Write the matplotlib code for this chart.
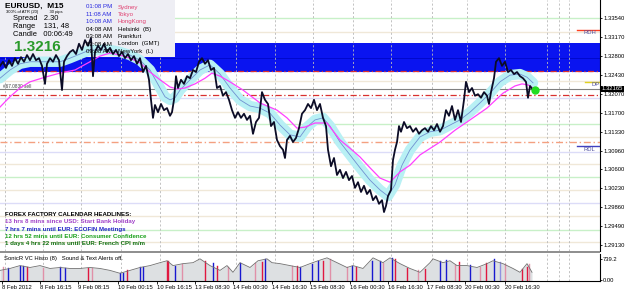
import matplotlib
matplotlib.use('Agg')
import matplotlib.pyplot as plt
from matplotlib.patches import Rectangle
import matplotlib.transforms as mtransforms

# ---------------- data ----------------
bar_x = [0,3,6,9,12,15,18,21,24,27,30,33,36,39,42,45,47,50,53,56,59,62,64,67,70,73,76,79,82,85,88,91,93,95,98,101,104,107,110,113,116,119,122,125,128,131,134,137,140,143,146,149,151,153,155,158,161,164,167,170,172,174,176,178,181,184,187,190,193,196,199,202,205,208,211,214,217,220,223,226,229,232,235,238,241,244,247,250,253,256,259,262,265,268,271,274,277,280,283,285,287,290,293,296,299,302,305,308,311,314,317,320,323,326,328,331,334,337,340,343,346,349,352,355,358,361,364,367,370,373,376,379,382,384,386,388,391,393,395,397,399,401,404,407,410,413,416,419,422,425,428,431,434,437,440,443,446,449,452,455,458,461,464,466,469,472,475,478,481,484,487,489,491,494,496,499,502,505,508,511,514,517,520,523,526,528,530,533]
close = [1.3261,1.3269,1.3257,1.3272,1.3261,1.3276,1.3265,1.3278,1.3269,1.3282,1.3272,1.3284,1.3272,1.3276,1.3261,1.3226,1.3265,1.3276,1.3269,1.3282,1.3272,1.3214,1.3269,1.3280,1.3288,1.3292,1.3284,1.3304,1.3292,1.3311,1.3300,1.3315,1.3241,1.3288,1.3300,1.3292,1.3304,1.3288,1.3296,1.3284,1.3292,1.3280,1.3288,1.3276,1.3284,1.3272,1.3280,1.3265,1.3276,1.3249,1.3261,1.3234,1.3195,1.3160,1.3185,1.3171,1.3187,1.3175,1.3179,1.3164,1.3171,1.3195,1.3241,1.3218,1.3234,1.3226,1.3241,1.3237,1.3253,1.3249,1.3269,1.3276,1.3265,1.3272,1.3253,1.3257,1.3218,1.3222,1.3203,1.3210,1.3195,1.3175,1.3160,1.3171,1.3160,1.3168,1.3156,1.3164,1.3129,1.3152,1.3160,1.3210,1.3195,1.3187,1.3144,1.3152,1.3117,1.3105,1.3098,1.3082,1.3117,1.3125,1.3113,1.3121,1.3140,1.3168,1.3175,1.3187,1.3179,1.3195,1.3175,1.3187,1.3160,1.3144,1.3098,1.3066,1.3082,1.3049,1.3059,1.3043,1.3055,1.3039,1.3047,1.3024,1.3035,1.3016,1.3028,1.3012,1.3020,1.3000,1.3008,1.2993,1.3000,1.2977,1.2989,1.3008,1.3020,1.3078,1.3098,1.3113,1.3144,1.3133,1.3152,1.3140,1.3144,1.3133,1.3140,1.3129,1.3136,1.3140,1.3133,1.3144,1.3136,1.3148,1.3133,1.3144,1.3175,1.3164,1.3183,1.3156,1.3175,1.3152,1.3195,1.3230,1.3210,1.3218,1.3203,1.3206,1.3199,1.3210,1.3203,1.3187,1.3210,1.3237,1.3269,1.3276,1.3261,1.3269,1.3249,1.3253,1.3245,1.3249,1.3241,1.3237,1.3230,1.3199,1.3222,1.3214]

ema34_x = [0,10,20,30,40,50,60,70,80,90,100,110,120,130,140,150,160,165,170,175,180,190,200,210,220,230,240,250,260,270,280,290,300,307,315,323,330,340,350,360,370,380,388,395,402,410,420,430,440,450,460,470,480,490,500,510,520,527,533]
ema34 = [1.3237,1.3253,1.3265,1.3269,1.3269,1.3269,1.3269,1.3276,1.3284,1.3292,1.3292,1.3292,1.3288,1.3282,1.3272,1.3253,1.3218,1.3201,1.3195,1.3199,1.3214,1.3234,1.3253,1.3263,1.3245,1.3218,1.3195,1.3183,1.3179,1.3169,1.3146,1.3127,1.3123,1.3142,1.3156,1.3160,1.3144,1.3113,1.3088,1.3063,1.3039,1.3020,1.3008,1.3030,1.3068,1.3098,1.3123,1.3133,1.3136,1.3146,1.3156,1.3171,1.3189,1.3208,1.3230,1.3243,1.3245,1.3239,1.3228]

ema89_x = [0,10,20,30,45,60,75,90,100,110,120,130,140,150,160,170,177,185,195,205,212,220,230,243,260,277,287,297,305,315,327,340,350,360,370,380,390,400,410,420,440,455,470,487,503,515,522,528,533]
ema89 = [1.3181,1.3201,1.3218,1.3230,1.3239,1.3247,1.3253,1.3269,1.3280,1.3286,1.3282,1.3276,1.3267,1.3249,1.3234,1.3220,1.3216,1.3218,1.3226,1.3237,1.3247,1.3241,1.3230,1.3214,1.3189,1.3175,1.3160,1.3140,1.3142,1.3150,1.3150,1.3117,1.3101,1.3084,1.3063,1.3043,1.3035,1.3055,1.3068,1.3088,1.3113,1.3136,1.3156,1.3179,1.3208,1.3222,1.3226,1.3224,1.3218]

last_x = 535
last_price = 1.3214
bid_price = 1.32165

price_ticks = [1.33540,1.33170,1.32800,1.32430,1.32070,1.31700,1.31330,1.30960,1.30600,1.30230,1.29860,1.29490,1.29130]
time_pos = [2,40,78,118,157,195,233,272,310,350,388,427,465,505]
time_labels = ['8 Feb 2012','8 Feb 16:15','9 Feb 08:15','10 Feb 00:15','10 Feb 16:15','13 Feb 08:30','14 Feb 00:30','14 Feb 16:30','15 Feb 08:30','16 Feb 00:30','16 Feb 16:30','17 Feb 08:30','20 Feb 00:30','20 Feb 16:30']
grid_x = [5,43,81,121,160,198,236,275,313,353,391,432,467,505,547,559,569]

green_levels = [1.3354,1.3148,1.3045,1.2942]
beige_levels = [1.3327,1.3232,1.3171,1.3123,1.3070,1.3020,1.2969,1.2919]
lavender_levels = [1.3199,1.3094,1.2995]
red_dashdot_levels = [1.3251,1.3204]
orange_dashdot_level = 1.3113
blue_zone = (1.3249, 1.3305)
rdh_level = 1.3331
rdl_level = 1.3105
dp_level = 1.3230

vol_x = [0,10,20,30,40,50,60,70,80,90,100,110,120,130,140,150,160,167,173,183,193,200,210,220,227,233,240,250,258,267,272,280,290,300,310,318,327,337,347,353,363,373,383,390,400,410,420,430,433,443,450,457,467,477,487,493,503,513,520,527,532]
vol = [290,343,422,370,422,343,370,343,343,370,343,290,211,290,370,422,502,554,422,475,502,607,422,290,422,238,502,370,554,607,502,475,422,370,475,554,634,502,370,422,343,634,502,634,475,343,238,502,607,502,554,422,422,370,475,554,475,343,238,475,238]

hist_x = [3,8,20,23,27,43,60,65,88,92,120,123,127,140,143,167,168,175,182,205,213,217,228,240,255,262,265,292,297,300,312,318,323,330,347,352,356,372,380,383,392,395,407,418,425,440,446,455,459,470,480,486,494,500,505,522,527,529]
hist_v = [370,343,422,422,370,343,370,343,343,343,211,211,290,370,370,554,554,422,475,554,480,422,380,500,500,520,600,420,400,370,475,540,560,600,380,400,380,560,560,500,620,600,360,300,330,560,580,440,520,440,380,500,590,520,470,320,390,460]
hist_c = ['pink','blue','blue','blue','red','pink','blue','blue','red','pink','blue','blue','red','blue','blue','red','red','blue','pink','red','blue','red','pink','blue','pink','red','blue','pink','red','blue','blue','blue','red','pink','pink','blue','red','blue','blue','pink','blue','red','red','pink','red','blue','blue','pink','red','blue','pink','red','blue','lblue','pink','red','red','pink']

# ---------------- figure ----------------
W, H = 625, 293
fig = plt.figure(figsize=(W/100, H/100), dpi=100)
fig.patch.set_facecolor('white')
FS = 4.2
FONT = 'Liberation Sans'

def px(x, y):
    return x / W, 1 - y / H

ax = fig.add_axes([0, (H-251)/H, 600/W, 251/H])
ax.set_xlim(0, 600)
ax.set_ylim(1.29013, 1.33890)
ax.set_facecolor('white')

# blue zone
ax.axhspan(blue_zone[0], blue_zone[1], color='#0a14f0', zorder=1, lw=0)
ax.axhline((blue_zone[0]+blue_zone[1])/2, color='#0008c8', lw=0.6, zorder=1.1)

for lv in green_levels:
    ax.axhline(lv, color='#c8f0c8', lw=1.0, zorder=1)
for lv in beige_levels:
    ax.axhline(lv, color='#f0e8d8', lw=1.0, zorder=1)
for lv in lavender_levels:
    ax.axhline(lv, color='#dcdcf8', lw=1.0, zorder=1)
for gx in grid_x:
    ax.axvline(gx, color='#b8b8b8', lw=0.6, ls=(0, (2.5, 2.5)), zorder=1.2)
ax.axhline(red_dashdot_levels[0] - 0.0001, color='#e8e8ff', lw=0.8, ls=(0, (3, 2)), zorder=1.3)
for lv in red_dashdot_levels:
    ax.axhline(lv, color='#d83030', lw=0.9, ls=(0, (5, 2, 1, 2)), zorder=1.4)
ax.axhline(orange_dashdot_level, color='#f4a080', lw=1.0, ls=(0, (5, 2, 1, 2)), zorder=1.4)
ax.axhline(bid_price, color='#808080', lw=0.8, zorder=1.4)

ax.plot([577, 600], [rdh_level]*2, color='#ff4020', lw=1.0, zorder=2)
ax.plot([577, 600], [rdl_level]*2, color='#4040c0', lw=1.0, zorder=2)
ax.plot([585, 600], [dp_level]*2, color='#e0d020', lw=1.0, zorder=2)
ax.text(584, rdh_level - 0.0001, 'RDH', fontsize=FS, color='#5050a0', va='top', family=FONT, zorder=3)
ax.text(584, rdl_level - 0.0001, 'RDL', fontsize=FS, color='#5050a0', va='top', family=FONT, zorder=3)
ax.text(592, dp_level - 0.0001, 'DP', fontsize=FS, color='#5050a0', va='top', family=FONT, zorder=3)
ax.text(3, bid_price, '#67.0830 sell', fontsize=3.4, color='#404040', va='bottom', family=FONT, zorder=3)

# info box (drawn under price)
ax.add_patch(Rectangle((0, 1.3278), 175, 0.0111, facecolor='#eeeef4', edgecolor='none', zorder=2))

# indicators
ax.plot(ema34_x, ema34, color='#b8f0f4', lw=7.5, solid_capstyle='round', zorder=3)
ax.plot(ema34_x, ema34, color='#7090d0', lw=0.6, zorder=3.1)
ax.plot(ema89_x, ema89, color='#ff40ff', lw=0.9, zorder=3.2)
ax.plot(bar_x, close, color='#0c0c26', lw=1.3, zorder=4)
ax.plot([last_x], [last_price], 'o', color='#22dd22', ms=5, zorder=5)

ax.yaxis.tick_right()
ax.set_yticks(price_ticks)
ax.set_yticklabels(['%.5f' % v for v in price_ticks], fontsize=FS, family=FONT)
ax.tick_params(axis='y', length=1.5, width=0.6, pad=0.8)
ax.set_xticks([])
for s in ['top', 'left']:
    ax.spines[s].set_visible(False)
ax.spines['right'].set_color('black')
ax.spines['right'].set_linewidth(0.8)
ax.spines['bottom'].set_visible(False)

tr = mtransforms.blended_transform_factory(ax.transAxes, ax.transData)
ax.text(1.003, bid_price, '1.32165', transform=tr, fontsize=FS, color='white', va='center', family=FONT,
        bbox=dict(facecolor='black', edgecolor='none', pad=0.5), zorder=6)

# separator
fig.patches.append(Rectangle(px(0, 253), 600/W, 2/H, transform=fig.transFigure, facecolor='#909090', edgecolor='none'))

# sub panel
sax = fig.add_axes([0, (H-281)/H, 600/W, 27/H])
sax.set_xlim(0, 600)
sax.set_ylim(0, 739.2)
sax.fill_between(vol_x, vol, 0, color='#dde0e2', lw=0)
colmap = {'red': '#e01840', 'blue': '#1818d0', 'pink': '#e090a8', 'lblue': '#9090e0'}
for hx, hv, hc in zip(hist_x, hist_v, hist_c):
    sax.plot([hx, hx], [0, hv], color=colmap[hc], lw=1.0)
sax.plot(vol_x, vol, color='#707070', lw=0.6)
for gx in grid_x:
    sax.axvline(gx, color='#b8b8b8', lw=0.6, ls=(0, (2.5, 2.5)), zorder=0.5)
sax.yaxis.tick_right()
sax.set_yticks([739.2 * 0.8, 35.2])
sax.set_yticklabels(['739.2', '0.00'], fontsize=FS, family=FONT)
sax.tick_params(axis='y', length=1.5, width=0.6, pad=0.8)
sax.set_xticks(time_pos)
sax.set_xticklabels(time_labels, fontsize=FS, family=FONT, ha='left')
sax.tick_params(axis='x', length=2, width=0.6, pad=1)
for s in ['top', 'left']:
    sax.spines[s].set_visible(False)
sax.spines['right'].set_linewidth(0.8)
sax.spines['bottom'].set_linewidth(0.8)
sax.text(4, 739.2 * 0.93, 'SonicR VC Histo (8)   Sound & Text Alerts off.', fontsize=FS, va='top', family=FONT)

# info panel text
def t(x, y, s, **kw):
    fig.text(*px(x, y), s, family=FONT, va='center', zorder=10, **kw)

t(5, 6, 'EURUSD,  M15', fontsize=6.0, weight='bold', color='black')
t(6, 12.5, '300% of ATR (20)          30 pips', fontsize=3.0, color='black')
t(13, 18.5, 'Spread   2.30', fontsize=5.4, color='black')
t(13, 26, 'Range    131, 48', fontsize=5.4, color='black')
t(13, 34, 'Candle   00:06:49', fontsize=5.4, color='black')
t(14, 47, '1.3216', fontsize=11, weight='bold', color='#2a9a2a')
times = ['01:08 PM', '11:08 AM', '10:08 AM', '04:08 AM', '03:08 AM', '02:08 AM', '09:08 AM']
cities = ['Sydney', 'Tokyo', 'HongKong', 'Helsinki  (B)', 'Frankfurt', 'London  (GMT)', 'NewYork  (L)']
tcols = ['#2828e0', '#2828e0', '#2828e0', 'black', 'black', 'black', 'black']
ccols = ['#e04070', '#e04070', '#e04070', 'black', 'black', 'black', 'black']
for i, (tm, cy) in enumerate(zip(times, cities)):
    y = 7 + i * 7.4
    t(86, y, tm, fontsize=4.4, color=tcols[i])
    t(118, y, cy, fontsize=4.4, color=ccols[i])

# forex factory headlines
t(5, 214, 'FOREX FACTORY CALENDAR HEADLINES:', fontsize=4.4, weight='bold', color='black')
t(5, 222, '13 hrs 8 mins since USD: Start Bank Holiday', fontsize=4.4, weight='bold', color='#a040c8')
t(5, 230, '7 hrs 7 mins until EUR: ECOFIN Meetings', fontsize=4.4, weight='bold', color='#2020c8')
t(5, 237, '12 hrs 52 mins until EUR: Consumer Confidence', fontsize=4.4, weight='bold', color='#18a018')
t(5, 244, '1 days 4 hrs 22 mins until EUR: French CPI m/m', fontsize=4.4, weight='bold', color='#107010')

fig.savefig('out.png', dpi=100, facecolor='white')
